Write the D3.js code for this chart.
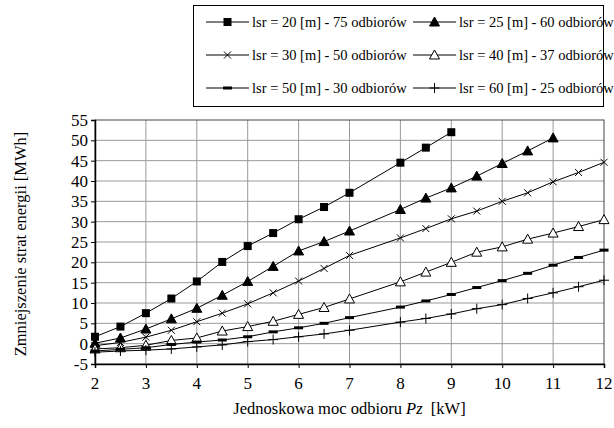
<!DOCTYPE html>
<html>
<head>
<meta charset="utf-8">
<script src="https://cdn.jsdelivr.net/npm/d3@7/dist/d3.min.js"></script>
<style>
    body { margin: 0; background: #fff; }
</style>
</head>
<body>
<svg width="614" height="428"></svg>
<script>
var xs = [2, 2.5, 3, 3.5, 4, 4.5, 5, 5.5, 6, 6.5, 7, 8, 8.5, 9, 9.5, 10, 10.5, 11, 11.5, 12];

var s20 = [1.7, 4.2, 7.5, 11.1, 15.3, 20.1, 24.0, 27.2, 30.6, 33.6, 37.1, 44.5, 48.2, 52.0];
var s25 = [0.1, 1.4, 3.6, 6.1, 8.7, 11.9, 15.3, 19.0, 22.8, 25.1, 27.7, 33.0, 35.8, 38.3, 41.2, 44.3, 47.4, 50.6];
var s30 = [-0.5, 0.3, 1.6, 3.3, 5.4, 7.5, 9.8, 12.5, 15.4, 18.5, 21.7, 26.0, 28.3, 30.7, 32.6, 35.0, 37.1, 39.8, 42.1, 44.6];
var s40 = [-1.3, -1.0, -0.4, 0.8, 1.4, 3.1, 4.2, 5.5, 7.2, 8.9, 11.0, 15.2, 17.6, 20.0, 22.5, 23.8, 25.7, 27.2, 28.8, 30.5];
var s50 = [-1.8, -1.4, -1.0, -0.2, 0.4, 0.9, 1.7, 2.9, 3.9, 5.0, 6.4, 9.0, 10.5, 12.1, 13.8, 15.5, 17.3, 19.3, 21.2, 23.0];
var s60 = [-2.1, -1.8, -1.6, -1.3, -0.8, -0.3, 0.5, 1.0, 1.7, 2.4, 3.3, 5.3, 6.2, 7.3, 8.6, 9.6, 11.1, 12.5, 14.0, 15.6];

var seriesNames = [
    'lsr = 20 [m] - 75 odbiorów', 'lsr = 25 [m] - 60 odbiorów',
    'lsr = 30 [m] - 50 odbiorów', 'lsr = 40 [m] - 37 odbiorów',
    'lsr = 50 [m] - 30 odbiorów', 'lsr = 60 [m] - 25 odbiorów'
];
var markers = ['square', 'triangle', 'cross', 'opentriangle', 'dash', 'plus'];
var xTicks = [2, 3, 4, 5, 6, 7, 8, 9, 10, 11, 12];
var yTicks = [-5, 0, 5, 10, 15, 20, 25, 30, 35, 40, 45, 50, 55];

// texts are kept directly under the svg, the serif font gets lost inside groups here
var FONT = 'Liberation Serif';

var series = [s20, s25, s30, s40, s50, s60].map(function (vals, i) {
    return {
        name: seriesNames[i],
        marker: markers[i],
        points: vals.map(function (v, j) { return { x: xs[j], y: v }; })
    };
});

var svg = d3.select('svg'),
    plotLeft = 95, plotRight = 604, plotTop = 120, plotBottom = 364;

var x = d3.scaleLinear().domain([2, 12]).range([plotLeft, plotRight]),
    y = d3.scaleLinear().domain([-5, 55]).range([plotBottom, plotTop]);

// grid
svg.append('g').selectAll('line').data(xTicks.slice(1, -1)).enter().append('line')
    .attr('x1', function (d) { return x(d); }).attr('x2', function (d) { return x(d); })
    .attr('y1', plotTop).attr('y2', plotBottom)
    .attr('stroke', '#999').attr('stroke-width', 1);
svg.append('g').selectAll('line').data(yTicks.slice(1, -1)).enter().append('line')
    .attr('x1', plotLeft).attr('x2', plotRight)
    .attr('y1', function (d) { return y(d); }).attr('y2', function (d) { return y(d); })
    .attr('stroke', '#999').attr('stroke-width', 1);

// frame
svg.append('rect')
    .attr('x', plotLeft).attr('y', plotTop)
    .attr('width', plotRight - plotLeft).attr('height', plotBottom - plotTop)
    .attr('fill', 'none').attr('stroke', '#444').attr('stroke-width', 1);

// axes (lines and ticks only)
var xAxis = svg.append('g')
    .attr('transform', 'translate(0,' + plotBottom + ')')
    .call(d3.axisBottom(x).tickValues(xTicks).tickSize(4).tickFormat(''));
var yAxis = svg.append('g')
    .attr('transform', 'translate(' + plotLeft + ',0)')
    .call(d3.axisLeft(y).tickValues(yTicks).tickSize(4).tickFormat(''));

[xAxis, yAxis].forEach(function (a) {
    a.select('.domain').attr('stroke', '#000').attr('stroke-width', 1.5);
    a.selectAll('.tick line').attr('stroke', '#000');
});

// tick labels
svg.selectAll('text.xlab').data(xTicks).enter().append('text')
    .attr('class', 'xlab')
    .attr('x', function (d) { return x(d); })
    .attr('y', plotBottom + 25)
    .attr('text-anchor', 'middle')
    .attr('font-family', FONT).attr('font-size', 17)
    .text(function (d) { return String(d); });

svg.selectAll('text.ylab').data(yTicks).enter().append('text')
    .attr('class', 'ylab')
    .attr('x', plotLeft - 7)
    .attr('y', function (d) { return y(d) + 6; })
    .attr('text-anchor', 'end')
    .attr('font-family', FONT).attr('font-size', 17)
    .text(function (d) { return String(d); });

// lines
var line = d3.line()
    .x(function (d) { return x(d.x); })
    .y(function (d) { return y(d.y); });

svg.append('g').selectAll('path').data(series).enter().append('path')
    .attr('d', function (d) { return line(d.points); })
    .attr('fill', 'none').attr('stroke', '#000').attr('stroke-width', 1);

function drawMarker(g, type, cx, cy) {
    if (type === 'square') {
        g.append('rect').attr('x', cx - 4).attr('y', cy - 4).attr('width', 8).attr('height', 8).attr('fill', '#000');
    } else if (type === 'triangle' || type === 'opentriangle') {
        var pts = [[cx, cy - 5], [cx - 5, cy + 4], [cx + 5, cy + 4]];
        g.append('polygon').attr('points', pts.join(' '))
            .attr('fill', type === 'triangle' ? '#000' : '#fff')
            .attr('stroke', '#000').attr('stroke-width', 1);
    } else if (type === 'cross') {
        g.append('path').attr('d', 'M' + (cx - 3.5) + ',' + (cy - 3.5) + 'L' + (cx + 3.5) + ',' + (cy + 3.5) +
            'M' + (cx - 3.5) + ',' + (cy + 3.5) + 'L' + (cx + 3.5) + ',' + (cy - 3.5))
            .attr('stroke', '#000').attr('stroke-width', 1);
    } else if (type === 'dash') {
        g.append('rect').attr('x', cx - 4.5).attr('y', cy - 1.5).attr('width', 9).attr('height', 3).attr('fill', '#000');
    } else if (type === 'plus') {
        g.append('path').attr('d', 'M' + (cx - 5) + ',' + cy + 'L' + (cx + 5) + ',' + cy +
            'M' + cx + ',' + (cy - 5) + 'L' + cx + ',' + (cy + 5))
            .attr('stroke', '#000').attr('stroke-width', 1);
    }
}

var markG = svg.append('g');
series.forEach(function (s) {
    s.points.forEach(function (p) {
        drawMarker(markG, s.marker, x(p.x), y(p.y));
    });
});

// axis titles
svg.append('text')
    .attr('transform', 'translate(26,' + ((plotTop + plotBottom) / 2 + 2) + ') rotate(-90)')
    .attr('text-anchor', 'middle')
    .attr('font-family', FONT).attr('font-size', 16.5)
    .text('Zmniejszenie strat energii [MWh]');

var xt = svg.append('text')
    .attr('x', (plotLeft + plotRight) / 2)
    .attr('y', 414)
    .attr('text-anchor', 'middle')
    .attr('font-family', FONT).attr('font-size', 16.5);
xt.append('tspan').text('Jednoskowa moc odbioru ');
xt.append('tspan').attr('font-style', 'italic').text('Pz');
xt.append('tspan').text('\u00a0 [kW]');

// legend
svg.append('rect')
    .attr('x', 193.5).attr('y', 5.5).attr('width', 410).attr('height', 101)
    .attr('fill', '#fff').attr('stroke', '#000').attr('stroke-width', 1);

var legendG = svg.append('g');
series.forEach(function (s, i) {
    var col = i % 2, row = Math.floor(i / 2),
        lx = col === 0 ? 206 : 413,
        ly = 22 + row * 33;
    legendG.append('line')
        .attr('x1', lx).attr('x2', lx + 43)
        .attr('y1', ly).attr('y2', ly)
        .attr('stroke', '#000').attr('stroke-width', 1);
    drawMarker(legendG, s.marker, lx + 21.5, ly);
    svg.append('text')
        .attr('x', lx + 46).attr('y', ly + 5)
        .attr('font-family', FONT).attr('font-size', 14.5)
        .text(s.name);
});
</script>
</body>
</html>
